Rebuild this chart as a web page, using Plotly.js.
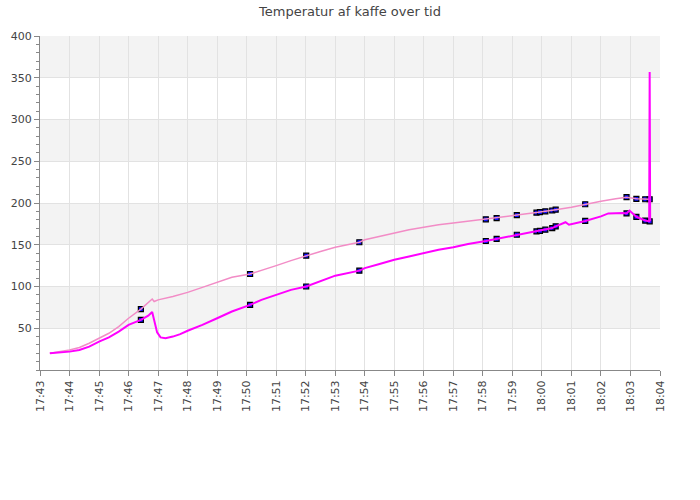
<!DOCTYPE html>
<html>
<head>
<meta charset="utf-8">
<script src="https://cdn.plot.ly/plotly-3.0.1.min.js"></script>
<style>html,body{margin:0;padding:0;background:#fff;}#chart{width:700px;height:500px;}</style>
</head>
<body>
<div id="chart"></div>
<script>
var DAY = "2024-01-01 ";

var pinkTimes = ["17:43:20","17:43:40","17:44:00","17:44:20","17:44:40","17:45:00","17:45:20","17:45:40","17:46:00","17:46:25","17:46:45","17:46:48","17:46:52","17:47:00","17:47:30","17:48:00","17:48:30","17:49:00","17:49:30","17:50:07","17:50:30","17:51:00","17:51:30","17:52:01","17:52:30","17:53:00","17:53:49","17:54:00","17:54:30","17:55:00","17:55:30","17:56:00","17:56:30","17:57:00","17:57:30","17:58:06","17:58:28","17:59:09","17:59:49","17:59:56","18:00:07","18:00:21","18:00:28","18:01:00","18:01:28","18:02:00","18:02:30","18:02:52","18:03:12","18:03:30","18:03:39"];
var pinkValues = [20,22,24,27,32,38,44,52,62,73,84,85,82,84,88,93,99,105,111,115,119,125,131,137,142,147,153,156,160,164,168,171,174,176,178,180.5,182,185.5,188.5,189,190,191,192,195,198.5,202,205,207,205,204.5,204.5];

var magentaTimes = ["17:43:20","17:43:40","17:44:00","17:44:20","17:44:40","17:45:00","17:45:20","17:45:40","17:46:00","17:46:25","17:46:40","17:46:48","17:46:52","17:46:58","17:47:05","17:47:15","17:47:30","17:47:45","17:48:00","17:48:30","17:49:00","17:49:30","17:50:07","17:50:30","17:51:00","17:51:30","17:52:01","17:52:30","17:53:00","17:53:49","17:54:00","17:54:30","17:55:00","17:55:30","17:56:00","17:56:30","17:57:00","17:57:30","17:58:06","17:58:28","17:59:09","17:59:49","17:59:56","18:00:07","18:00:21","18:00:28","18:00:48","18:00:55","18:01:28","18:02:00","18:02:15","18:02:45","18:02:52","18:02:58","18:03:12","18:03:30","18:03:38","18:03:39","18:03:40"];
var magentaValues = [20,21,22,24,28,34,39,46,54,60,65,69.5,60,45,39,38,40,43,47,54,62,70,78,84,90,96,100,106,113,119,122,127,132,136,140,144,147,151,154.5,157,162,166,166.5,168,170,172,177,174,178.5,184,187.5,188,187.5,191,183.5,179,178,357,178];

var markerTimes = ["17:46:25","17:50:07","17:52:01","17:53:49","17:58:06","17:58:28","17:59:09","17:59:49","17:59:56","18:00:07","18:00:21","18:00:28","18:01:28","18:02:52","18:03:12","18:03:30","18:03:39"];
var markerPinkValues = [73,115,137,153,180.5,182,185.5,188.5,189,190,191,192,198.5,207,205,204.5,204.5];
var markerMagentaValues = [60,78,100,119,154.5,157,162,166,166.5,168,170,172,178.5,187.5,183.5,179,178];

var yTicks = [50,100,150,200,250,300,350,400];
var bands = [[50,100],[150,200],[250,300],[350,400]];

function withDay(a){ return a.map(function(t){ return DAY + t; }); }

var markerStyle = {symbol:"square", size:5, color:"#1010ff", line:{color:"#000", width:1.2}};

var traces = [
  {x: withDay(markerTimes), y: markerPinkValues, type:"scatter", mode:"markers", marker:markerStyle},
  {x: withDay(markerTimes), y: markerMagentaValues, type:"scatter", mode:"markers", marker:markerStyle},
  {x: withDay(pinkTimes), y: pinkValues, type:"scatter", mode:"lines", line:{color:"#f28cc6", width:1.5}},
  {x: withDay(magentaTimes), y: magentaValues, type:"scatter", mode:"lines", line:{color:"#ff00ff", width:2}}
];

var shapes = bands.map(function(b){
  return {type:"rect", xref:"paper", yref:"y", x0:0, x1:1, y0:b[0], y1:b[1], fillcolor:"#f3f3f3", line:{width:0}, layer:"below"};
});

var layout = {
  width:700, height:500,
  margin:{l:40, r:40, t:36, b:130, pad:0},
  paper_bgcolor:"#fff", plot_bgcolor:"#fff",
  showlegend:false,
  font:{family:"DejaVu Sans, sans-serif", size:11, color:"#444"},
  title:{text:"Temperatur af kaffe over tid", font:{family:"DejaVu Sans, sans-serif", size:13, color:"#444"}, x:0.5, xanchor:"center", y:0.978, yref:"container", yanchor:"middle"},
  xaxis:{
    type:"date",
    range:[DAY+"17:43:00", DAY+"18:04:00"],
    dtick:60000, tick0:DAY+"17:43:00",
    tickformat:"%H:%M", tickangle:-90,
    showgrid:true, gridcolor:"#e2e2e2", gridwidth:1,
    showline:true, linecolor:"#888", linewidth:1,
    ticks:"outside", ticklen:5, tickcolor:"#888",
    zeroline:false, fixedrange:true
  },
  yaxis:{
    range:[0,400],
    tickvals:yTicks,
    showgrid:true, gridcolor:"#e2e2e2", gridwidth:1,
    showline:true, linecolor:"#888", linewidth:1,
    ticks:"outside", ticklen:5, tickcolor:"#888",
    minor:{dtick:10, ticks:"outside", ticklen:3, tickcolor:"#888", showgrid:false},
    zeroline:false, fixedrange:true
  },
  shapes:shapes
};

Plotly.newPlot("chart", traces, layout, {displayModeBar:false, staticPlot:true});
</script>
</body>
</html>
